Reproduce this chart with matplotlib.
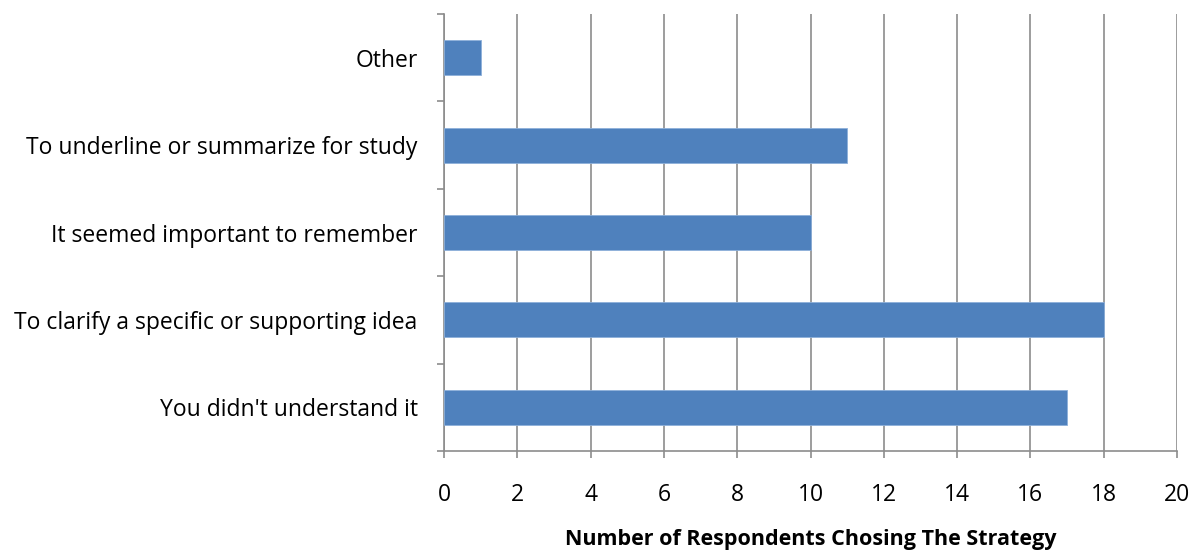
import matplotlib.pyplot as plt
import numpy as np

categories = ["You didn't understand it",
              "To clarify a specific or supporting idea",
              "It seemed important to remember",
              "To underline or summarize for study",
              "Other"]
values = [17, 18, 10, 11, 1]
xticks = list(range(0, 21, 2))

plt.rcParams['font.family'] = ['Open Sans', 'DejaVu Sans']

fig = plt.figure(figsize=(11.94, 5.57), dpi=100)
ax = fig.add_axes([444 / 1194, 1 - 451 / 557, 733 / 1194, 437 / 557])

y = np.arange(len(categories))
ax.barh(y, values, height=0.4, color='#4f81bd', edgecolor='#8db0da', linewidth=0.6, zorder=3)

ax.set_xlim(0, 20)
ax.set_ylim(-0.5, len(categories) - 0.5)
ax.set_xticks(xticks)
ax.set_xticklabels([str(t) for t in xticks], fontsize=16.5)
ax.set_yticks(y)
ax.set_yticklabels(categories, fontsize=16.5)
ax.set_yticks(np.arange(-0.5, len(categories), 1), minor=True)

ax.tick_params(axis='y', which='major', length=0, pad=19)
ax.tick_params(axis='y', which='minor', length=5, width=1.2, color='#8c8c8c', direction='out')
ax.tick_params(axis='x', which='major', length=5, width=1.2, color='#8c8c8c', direction='out', pad=18)

ax.grid(axis='x', color='#8c8c8c', linewidth=1.2, zorder=0)
for s in ['top', 'right']:
    ax.spines[s].set_visible(False)
for s in ['left', 'bottom']:
    ax.spines[s].set_color('#8c8c8c')
    ax.spines[s].set_linewidth(1.2)

ax.set_xlabel('Number of Respondents Chosing The Strategy', fontsize=15.5, fontweight='bold', labelpad=16)

fig.savefig('out.png', dpi=100)
